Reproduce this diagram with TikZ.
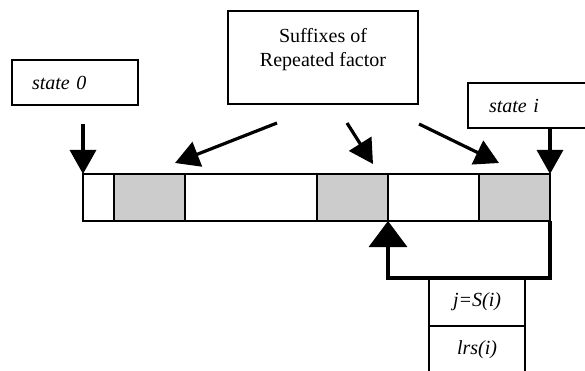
\documentclass[tikz,border=0pt]{standalone}
\usepackage{fontspec}
\setmainfont{Liberation Serif}
\usetikzlibrary{arrows.meta,positioning}

\begin{document}
\begin{tikzpicture}[x=1pt,y=-1pt,
  box/.style={draw, line width=1.2pt, inner sep=0pt, outer sep=0pt, anchor=north west, font=\fontsize{20}{24}\selectfont},
  cell/.style={draw, line width=1.2pt, fill=gray!40, minimum width=71pt, minimum height=47pt, inner sep=0pt, outer sep=0pt, anchor=north west},
  big/.style={line width=3.2pt, -{Triangle[length=24pt,width=26pt]}},
  wide/.style={line width=3.2pt, -{Triangle[length=26pt,width=38pt]}}]
  \useasboundingbox (0,0) rectangle (585,371);
  % the string and its repeated factors
  \node[draw, line width=1.2pt, minimum width=467pt, minimum height=47pt, inner sep=0pt, outer sep=0pt, anchor=north west] (str) at (83,174) {};
  \node[cell] (g1) at (114,174) {};
  \node[cell] (g2) at (317,174) {};
  \node[cell] (g3) at (479,174) {};
  % boxes
  \node[box, minimum width=126pt, minimum height=45pt, text width=86pt, align=left] (s0) at (12,60) {\itshape state 0};
  \node[box, minimum width=118pt, minimum height=45pt, text width=76pt, align=left] (si) at (468,83) {\itshape\raisebox{-2pt}{state i}};
  \node[box, minimum width=190pt, minimum height=93pt, align=center] (suf) at (228,11) {Suffixes of\\Repeated factor\rule[-21pt]{0pt}{1pt}};
  \node[box, minimum width=96pt, minimum height=48pt] (jS) at (429,278) {\itshape j=S(i)};
  \node[box, minimum width=96pt, minimum height=48pt, below=0pt of jS] (lrs) {\itshape lrs(i)};
  \coordinate (a1) at ([shift={(49,19)}]suf.south west);
  \coordinate (a2) at ([shift={(119,19)}]suf.south west);
  \coordinate (a3) at ([shift={(191,20)}]suf.south west);
  % arrows
  \draw[big, shorten <=19pt] (s0.south -| str.north west) -- (str.north west);
  \draw[big] (si.south -| str.north east) -- (str.north east);
  \draw[big] (a1) -- ([shift={(-10,-11)}]g1.north east);
  \draw[big] (a2) -- ([shift={(-15,-10)}]g2.north east);
  \draw[big] (a3) -- ([shift={(20,-11)}]g3.north west);
  \draw[wide] (str.south east) -- (str.south east |- jS.north) -- (g2.south east |- jS.north) -- (g2.south east);
\end{tikzpicture}
\end{document}
